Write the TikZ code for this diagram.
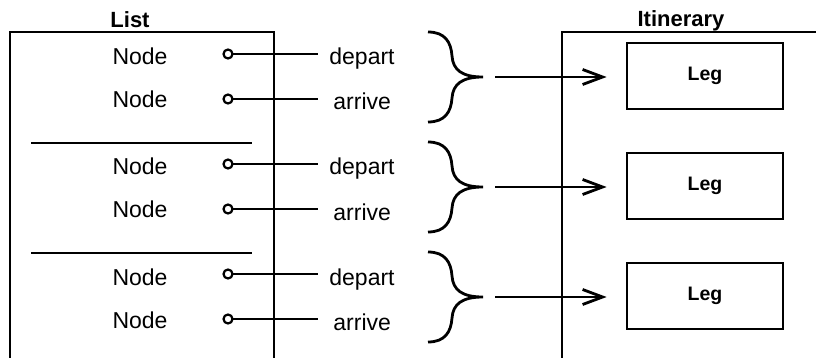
\documentclass[tikz,border=0pt]{standalone}
\usepackage{fontspec}
\setmainfont{Liberation Sans}
\usetikzlibrary{arrows.meta}

\tikzset{
  txt/.style={inner sep=0pt, font=\fontsize{23}{27}\selectfont},
  title/.style={inner sep=0pt, font=\fontsize{22}{26}\selectfont\bfseries},
  port/.style={circle, draw, fill=white, line width=2.2pt, minimum size=9pt, inner sep=0pt},
  legbox/.style={draw, minimum width=156pt, minimum height=66pt,
                 inner sep=0pt, font=\fontsize{19.5}{23}\selectfont\bfseries},
  link/.style={-{Straight Barb[length=20pt,width=15pt]}},
}

\begin{document}
\begin{tikzpicture}[x=1pt,y=-1pt,line width=2.8pt]
\useasboundingbox (0,0) rectangle (816,358);

% containers, both open past the lower edge
\draw (10,370) -- (10,32) -- (274,32) -- (274,370);
\draw (562,370) -- (562,32) -- (830,32);
\node[title, anchor=base] (list) at (130,28) {List};
\node[title, anchor=base] (itin) at (681,27) {Itinerary};

% separators between node pairs
\draw (31,143) -- (252,143);
\draw (31,253) -- (252,253);

\foreach \k/\o in {0/0,1/110,2/220} {
  % pair of list nodes with their ports
  \node[txt, anchor=base] (nd\k) at (140,65+\o) {Node};
  \node[txt, anchor=base] (na\k) at (140,108+\o) {Node};
  \node[txt, anchor=base west] (dep\k) at (328,65+\o) {depart};
  \node[txt, anchor=base west] (arr\k) at (332,110+\o) {arrive};
  \coordinate (ed\k) at (318,54+\o);
  \coordinate (ea\k) at (318,99+\o);
  \draw (228,54+\o) -- (ed\k);
  \draw (228,99+\o) -- (ea\k);
  \node[port] (pd\k) at (228,54+\o) {};
  \node[port] (pa\k) at (228,99+\o) {};

  % brace grouping the pair
  \coordinate (tip\k) at (483,77+\o);
  \draw (428,32+\o) .. controls (445,32+\o) and (451,42+\o) .. (452,56+\o)
        .. controls (453,70+\o) and (462,77+\o) .. (tip\k)
        .. controls (462,77+\o) and (453,84+\o) .. (452,98+\o)
        .. controls (451,112+\o) and (445,122+\o) .. (428,122+\o);

  % resulting leg
  \node[legbox] (leg\k) at (705,76+\o) {Leg};
  \coordinate (st\k) at (495,77+\o);
  \draw[link, shorten >=19pt] (st\k) -- (leg\k.west |- st\k);
}
\end{tikzpicture}
\end{document}
